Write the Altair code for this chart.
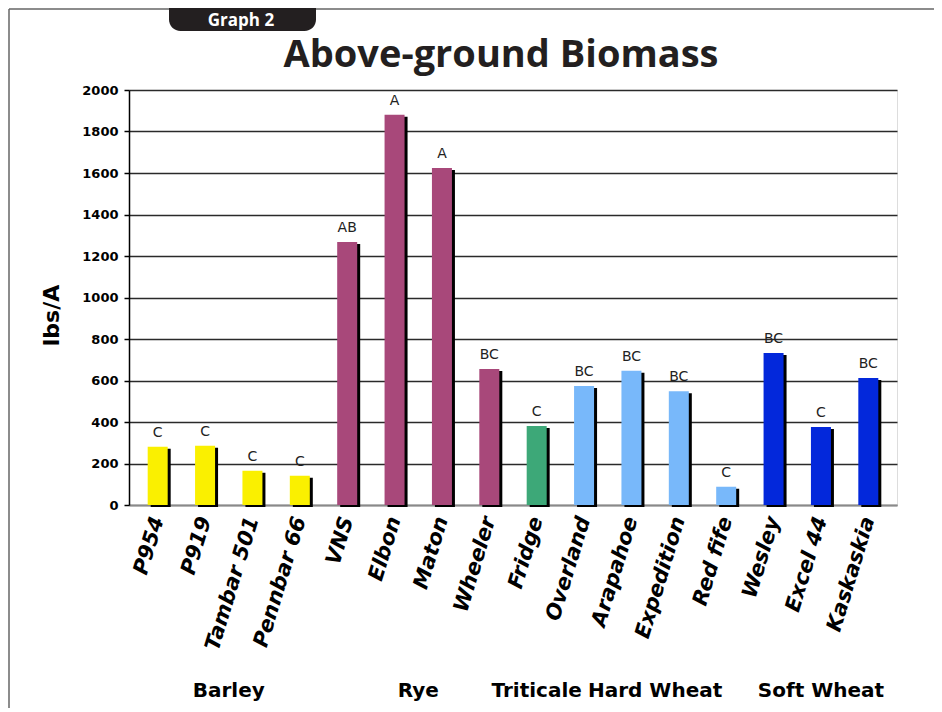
import altair as alt
import pandas as pd

names = ["P954", "P919", "Tambar 501", "Pennbar 66", "VNS", "Elbon", "Maton", "Wheeler",
         "Fridge", "Overland", "Arapahoe", "Expedition", "Red fife", "Wesley", "Excel 44", "Kaskaskia"]
values = [281, 286, 165, 141, 1267, 1881, 1624, 655, 381, 573, 647, 548, 88, 733, 376, 612]
letters = ["C", "C", "C", "C", "AB", "A", "A", "BC", "C", "BC", "BC", "BC", "C", "BC", "C", "BC"]
groups = ["Barley"] * 4 + ["Rye"] * 4 + ["Triticale"] + ["Hard Wheat"] * 4 + ["Soft Wheat"] * 3
group_order = ["Barley", "Rye", "Triticale", "Hard Wheat", "Soft Wheat"]
group_colors = ["#FAF000", "#A8487A", "#3DA878", "#78B8FA", "#0328DB"]
y_ticks = list(range(0, 2001, 200))

df = pd.DataFrame({"i": list(range(len(names))), "name": names, "value": values,
                   "letter": letters, "group": groups})

W, H = 768, 415
xscale = alt.Scale(domain=[-0.5, len(names) - 0.5], nice=False, zero=False)
yscale = alt.Scale(domain=[0, 2000], nice=False)

label_expr = "[" + ",".join("'" + n + "'" for n in names) + "][datum.value]"

base = alt.Chart(df)

shadow = base.mark_bar(width=20, color="#000000", xOffset=3, yOffset=2, y2Offset=1).encode(
    x=alt.X("i:Q", scale=xscale, axis=alt.Axis(
        title=None, values=list(range(len(names))), labelExpr=label_expr,
        labelAngle=287, labelAlign="right", labelBaseline="middle", labelPadding=12,
        labelFont="DejaVu Sans", labelFontSize=21, labelFontWeight="bold", labelFontStyle="italic",
        labelColor="#000000", labelFlush=False, labelOverlap=False, labelBound=False,
        ticks=False, grid=False, domainColor="#8a8a8a", domainWidth=2)),
    y=alt.Y("value:Q", scale=yscale, axis=alt.Axis(
        title="lbs/A", values=y_ticks, format="d",
        titleFont="DejaVu Sans", titleFontSize=22, titleFontWeight="bold", titleColor="#000000",
        titleAngle=270, titleAlign="center", titleBaseline="middle", titleX=-78, titleY=225,
        labelFont="DejaVu Sans", labelFontSize=13, labelFontWeight="bold", labelColor="#000000",
        labelPadding=6, tickSize=5, tickColor="#000000", tickWidth=1.5,
        domainColor="#000000", domainWidth=1.5,
        gridColor={"condition": {"test": "datum.value === 0", "value": "#8a8a8a"}, "value": "#2a2a2a"},
        gridWidth=1.6)),
)

bars = base.mark_bar(width=20).encode(
    x=alt.X("i:Q", scale=xscale),
    y=alt.Y("value:Q", scale=yscale),
    color=alt.Color("group:N", scale=alt.Scale(domain=group_order, range=group_colors), legend=None),
)

letter_text = base.mark_text(dy=-10, baseline="alphabetic", font="DejaVu Sans", fontSize=14,
                             color="#222222").encode(
    x=alt.X("i:Q", scale=xscale),
    y=alt.Y("value:Q", scale=yscale),
    text="letter:N",
)

group_text = base.mark_text(baseline="alphabetic", font="DejaVu Sans", fontSize=20,
                            fontWeight="bold", color="#000000").encode(
    x=alt.X("mean(i):Q", scale=xscale),
    y=alt.value(607),
    text="group:N",
)

one = alt.Chart(pd.DataFrame({"t": ["Graph 2"]}))

frame_left = one.mark_rule(color="#666666", strokeWidth=1.5).encode(
    x=alt.value(-120), y=alt.value(-81), y2=alt.value(625))
frame_top = one.mark_rule(color="#666666", strokeWidth=1.5).encode(
    x=alt.value(-120), x2=alt.value(805), y=alt.value(-81))
tab = one.mark_rect(color="#231f20", cornerRadiusBottomLeft=13, cornerRadiusBottomRight=13).encode(
    x=alt.value(40), x2=alt.value(187), y=alt.value(-82), y2=alt.value(-59))
tab_text = one.mark_text(font="Open Sans", fontSize=17, fontWeight="bold", color="#ffffff",
                         baseline="alphabetic").encode(
    x=alt.value(112), y=alt.value(-64), text="t:N")
title = one.mark_text(font="Open Sans", fontSize=38, fontWeight="bold", color="#231f20",
                      baseline="alphabetic").encode(
    x=alt.value(372), y=alt.value(-23), text=alt.value("Above-ground Biomass"))

chart = alt.layer(
    frame_left, frame_top, tab, tab_text, title,
    shadow, bars, letter_text, group_text,
).properties(
    width=W, height=H,
    autosize=alt.AutoSizeParams(type="none"),
    padding={"left": 121, "top": 82, "right": 37, "bottom": 203},
).configure_view(
    stroke="#aaaaaa", strokeWidth=2
).configure(background="#ffffff")

chart.save("out.html", embed_options={"renderer": "svg", "actions": False})
